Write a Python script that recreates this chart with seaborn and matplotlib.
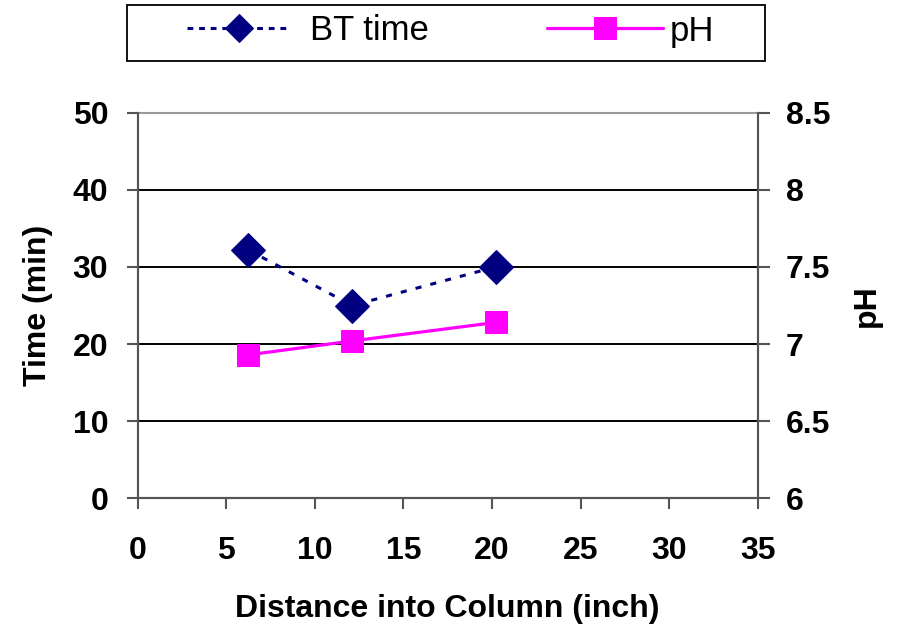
import matplotlib
matplotlib.use("Agg")
import matplotlib.pyplot as plt
from matplotlib.patches import Rectangle
import seaborn as sns
import pandas as pd

distance = [6.25, 12.1, 20.2]
bt_time = [32.2, 25.0, 30.0]
ph = [6.93, 7.02, 7.14]
x_ticks = [0, 5, 10, 15, 20, 25, 30, 35]
left_ticks = [0, 10, 20, 30, 40, 50]
right_ticks = [6, 6.5, 7, 7.5, 8, 8.5]
right_labels = ["6", "6.5", "7", "7.5", "8", "8.5"]

sns.set_style("white")
plt.rcParams['font.family'] = ['Liberation Sans', 'DejaVu Sans']
plt.rcParams['text.color'] = 'black'
plt.rcParams['axes.labelcolor'] = 'black'

df = pd.DataFrame({"distance": distance, "bt": bt_time, "ph": ph})

W, H = 898, 628
fig = plt.figure(figsize=(8.98, 6.28), dpi=100)
ax = fig.add_axes([137.7 / W, 1 - 498.3 / H, 620 / W, 385.6 / H])
ax2 = ax.twinx()

navy = "#000080"
magenta = "#FF00FF"

sns.lineplot(data=df, x="distance", y="bt", ax=ax, color=navy, linewidth=2.2,
             linestyle=(0, (2.0, 3.0)), marker="D", markersize=17,
             markeredgecolor=navy, markerfacecolor=navy, label="BT time", legend=False)
sns.lineplot(data=df, x="distance", y="ph", ax=ax2, color=magenta, linewidth=2.3,
             marker="s", markersize=16.5, markeredgecolor=magenta,
             markerfacecolor=magenta, label="pH", legend=False)

ax.set_xlim(0, 35)
ax.set_ylim(0, 50)
ax2.set_ylim(6, 8.5)
ax.set_xticks(x_ticks)
ax.set_yticks(left_ticks)
ax2.set_yticks(right_ticks)
ax2.set_yticklabels(right_labels)

for a in (ax, ax2):
    for s in a.spines.values():
        s.set_color("#555555")
        s.set_linewidth(1.5)
    a.spines["top"].set_visible(False)

ax.yaxis.grid(True, color="black", linewidth=1.4)
ax.set_axisbelow(True)
ax.axhline(50, color="#999999", linewidth=1.5, clip_on=False)

ax.tick_params(axis="y", direction="out", length=7.7, width=1.5, color="#555555",
               labelcolor="black", labelsize=23, pad=13.5, left=True)
ax.tick_params(axis="x", direction="out", length=8, width=1.5, color="#555555",
               labelcolor="black", labelsize=23, pad=19.5, bottom=True)
ax2.tick_params(axis="y", direction="out", length=8.6, width=1.5, color="#555555",
                labelcolor="black", labelsize=23, pad=11.5, right=True)
for lab in ax.get_xticklabels() + ax.get_yticklabels() + ax2.get_yticklabels():
    lab.set_fontweight("bold")

ax.set_xlabel("Distance into Column (inch)", fontsize=23, fontweight="bold", labelpad=20)
ax.set_ylabel("Time (min)", fontsize=23, fontweight="bold", labelpad=14)
ax2.set_ylabel("pH", fontsize=23, fontweight="bold", labelpad=16)

# legend frame
fig.patches.append(Rectangle((127 / W, 1 - 61 / H), 638 / W, 56 / H,
                             transform=fig.transFigure, fill=True, facecolor="white",
                             edgecolor="black", linewidth=1.3, zorder=0))

h1, l1 = ax.get_legend_handles_labels()
h2, l2 = ax2.get_legend_handles_labels()
leg1 = fig.legend(h1, l1, loc="center left", bbox_to_anchor=(187 / W, 1 - 31 / H),
                  frameon=False, fontsize=25, handlelength=3.0, handletextpad=0.55,
                  borderpad=0, borderaxespad=0, markerscale=0.85)
for ln in leg1.get_lines():
    ln.set_dashes((1.9, 1.9))
leg2 = fig.legend(h2, l2, loc="center left", bbox_to_anchor=(547 / W, 1 - 31 / H),
                  frameon=False, fontsize=25, handlelength=3.33, handletextpad=0.2,
                  borderpad=0, borderaxespad=0, markerscale=1.0)

fig.savefig("out.png", dpi=100)
